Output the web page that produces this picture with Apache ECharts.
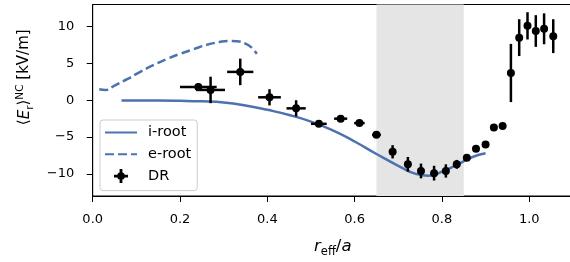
<!DOCTYPE html>
<html>
  <head>
    <meta charset="UTF-8" />
    <title>Er NC</title>
    <script src="https://cdn.jsdelivr.net/npm/echarts@6/dist/echarts.min.js"></script>
    <style>
      body { margin: 0; background: #fff; }
    </style>
  </head>
  <body>
    <div id="chart" style="width: 570px; height: 262px"></div>
    <script>
      var xTicks = [0, 0.2, 0.4, 0.6, 0.8, 1.0];
      var yTicks = [-10, -5, 0, 5, 10];
      var shadeRange = [0.65, 0.85];

      // i-root (solid)
      var iRootX = [0.066, 0.1, 0.15, 0.2, 0.25, 0.3, 0.35, 0.4, 0.45, 0.5, 0.55, 0.6, 0.65, 0.7, 0.74, 0.77, 0.8, 0.84, 0.87, 0.9];
      var iRootY = [-0.05, -0.05, -0.05, -0.08, -0.15, -0.3, -0.7, -1.3, -2.0, -2.9, -4.1, -5.6, -7.3, -8.9, -10.0, -10.25, -9.7, -8.6, -7.7, -7.2];

      // e-root (dashed)
      var eRootX = [0.015, 0.03, 0.05, 0.08, 0.11, 0.14, 0.17, 0.2, 0.23, 0.26, 0.29, 0.31, 0.33, 0.35, 0.365, 0.376];
      var eRootY = [1.5, 1.4, 2.0, 2.9, 3.9, 4.8, 5.6, 6.3, 6.9, 7.5, 7.9, 8.05, 8.0, 7.7, 7.1, 6.3];

      // DR measurements
      var drX = [0.242, 0.270, 0.338, 0.405, 0.466, 0.518, 0.568, 0.611, 0.650, 0.687, 0.722, 0.752, 0.782, 0.809, 0.834, 0.857, 0.878, 0.900, 0.919, 0.939, 0.958, 0.977, 0.996, 1.015, 1.034, 1.055];
      var drY = [1.8, 1.4, 3.85, 0.4, -1.1, -3.2, -2.5, -3.1, -4.7, -7.0, -8.7, -9.6, -9.9, -9.6, -8.7, -7.8, -6.6, -6.0, -3.7, -3.5, 3.7, 8.5, 10.1, 9.4, 9.7, 8.7];
      var drXErr = [0.042, 0.033, 0.03, 0.026, 0.022, 0.018, 0.015, 0.012, 0.01, 0.008, 0.007, 0.007, 0.007, 0.006, 0.006, 0.005, 0.005, 0.005, 0.004, 0.004, 0.004, 0.004, 0.004, 0.004, 0.004, 0.004];
      var drYErr = [0.5, 1.8, 1.8, 1.1, 1.1, 0.3, 0.3, 0.3, 0.4, 0.9, 1.0, 1.0, 1.0, 0.9, 0.6, 0.4, 0.4, 0.4, 0.3, 0.3, 3.95, 2.5, 1.85, 2.15, 2.1, 2.3];

      var blue = "#4c72b0";
      var font = "DejaVu Sans";

      function zip(a, b) {
        var out = [];
        for (var i = 0; i < a.length; i++) out.push([a[i], b[i]]);
        return out;
      }

      var drData = [];
      for (var i = 0; i < drX.length; i++) {
        drData.push([drX[i], drY[i], drXErr[i], drYErr[i]]);
      }

      function renderDR(params, api) {
        var x = api.value(0), y = api.value(1), ex = api.value(2), ey = api.value(3);
        var c = api.coord([x, y]);
        var l = api.coord([x - ex, y]);
        var r = api.coord([x + ex, y]);
        var t = api.coord([x, y + ey]);
        var b = api.coord([x, y - ey]);
        var st = { stroke: "#000", lineWidth: 2.5 };
        return {
          type: "group",
          children: [
            { type: "line", shape: { x1: l[0], y1: l[1], x2: r[0], y2: r[1] }, style: st },
            { type: "line", shape: { x1: t[0], y1: t[1], x2: b[0], y2: b[1] }, style: st },
            { type: "circle", shape: { cx: c[0], cy: c[1], r: 4 }, style: { fill: "#000" } },
          ],
        };
      }

      var myChart = echarts.init(document.getElementById("chart"), null, { renderer: "canvas" });

      var noSymbol = { color: "transparent", borderWidth: 0, opacity: 0 };

      var option = {
        animation: false,
        backgroundColor: "#fff",
        textStyle: { fontFamily: font },
        grid: {
          left: 92.7,
          top: 4.5,
          right: -2.9,
          bottom: 66,
          outerBoundsMode: "none",
          containLabel: false,
          show: true,
          borderColor: "#000",
          borderWidth: 1,
          backgroundColor: "transparent",
        },
        legend: {
          orient: "vertical",
          left: 100,
          top: 120,
          padding: [5, 6, 7, 4],
          itemWidth: 32,
          itemHeight: 14,
          itemGap: 6.8,
          backgroundColor: "rgba(255,255,255,0.8)",
          borderColor: "#cccccc",
          borderWidth: 1,
          borderRadius: 3,
          textStyle: { fontFamily: font, fontSize: 14.5, lineHeight: 14, color: "#000", padding: [0, 0, 0, 6] },
          data: [
            { name: "i-root", itemStyle: noSymbol },
            { name: "e-root", itemStyle: noSymbol },
            {
              name: "DR",
              icon: "path://M-6,-1.2 L-1.2,-1.2 L-1.2,-6 L1.2,-6 L1.2,-1.2 L6,-1.2 L6,1.2 L1.2,1.2 L1.2,6 L-1.2,6 L-1.2,1.2 L-6,1.2 Z M-3.3,0 A3.3,3.3 0 1,1 3.3,0 A3.3,3.3 0 1,1 -3.3,0 Z",
              itemStyle: { color: "#000" },
            },
          ],
        },
        xAxis: {
          type: "value",
          min: 0,
          max: 1.1,
          name: "{it|r}{sub|eff}{n|/}{it|a}",
          nameLocation: "middle",
          nameGap: 40,
          nameTextStyle: {
            rich: {
              it: { fontFamily: font, fontStyle: "italic", fontSize: 16.5, color: "#000", verticalAlign: "bottom", lineHeight: 19 },
              sub: { fontFamily: font, fontSize: 11.5, color: "#000", verticalAlign: "bottom", lineHeight: 13, padding: [0, 0, -3, 0] },
              n: { fontFamily: font, fontSize: 16.5, color: "#000", verticalAlign: "bottom", lineHeight: 19 },
            },
          },
          axisLine: { show: true, onZero: false, lineStyle: { color: "#000", width: 1 } },
          axisTick: { show: true, length: 6, lineStyle: { color: "#000", width: 1 }, customValues: xTicks },
          axisLabel: {
            color: "#000",
            fontFamily: font,
            fontSize: 13,
            margin: 17,
            customValues: xTicks,
            formatter: function (v) { return v.toFixed(1); },
          },
          splitLine: { show: false },
        },
        yAxis: {
          type: "value",
          min: -13,
          max: 13,
          name: "⟨{it|E}{sub|r}⟩{sup|NC} [kV/m]",
          nameLocation: "middle",
          nameRotate: 90,
          nameGap: 56,
          nameTextStyle: {
            rich: {
              it: { fontFamily: font, fontStyle: "italic", fontSize: 15, color: "#000", verticalAlign: "bottom", lineHeight: 18 },
              sub: { fontFamily: font, fontSize: 10.5, color: "#000", verticalAlign: "bottom", lineHeight: 12, padding: [0, 0, -3, 0] },
              sup: { fontFamily: font, fontSize: 10.5, color: "#000", verticalAlign: "top", lineHeight: 12, padding: [0, 0, 7, 0] },
            },
            fontFamily: font,
            fontSize: 15,
            color: "#000",
            padding: [0, 0, 0, 46],
          },
          axisLine: { show: true, onZero: false, lineStyle: { color: "#000", width: 1 } },
          axisTick: { show: true, length: 6, lineStyle: { color: "#000", width: 1 }, customValues: yTicks },
          axisLabel: {
            color: "#000",
            fontFamily: font,
            fontSize: 13,
            margin: 18.5,
            customValues: yTicks,
            formatter: function (v) { return String(v).replace("-", "\u2212"); },
          },
          splitLine: { show: false },
        },
        series: [
          {
            name: "shade",
            type: "line",
            data: [],
            silent: true,
            z: 0,
            markArea: {
              silent: true,
              itemStyle: { color: "#e5e5e5" },
              data: [[{ xAxis: shadeRange[0] }, { xAxis: shadeRange[1] }]],
            },
          },
          {
            name: "i-root",
            type: "line",
            data: zip(iRootX, iRootY),
            smooth: true,
            showSymbol: false,
            symbol: "none",
            color: blue,
            lineStyle: { color: blue, width: 2.5 },
            z: 3,
          },
          {
            name: "e-root",
            type: "line",
            data: zip(eRootX, eRootY),
            smooth: true,
            showSymbol: false,
            symbol: "none",
            color: blue,
            lineStyle: { color: blue, width: 2.5, type: [9, 4] },
            z: 3,
          },
          {
            name: "DR",
            type: "custom",
            data: drData,
            renderItem: renderDR,
            color: "#000",
            encode: { x: 0, y: 1 },
            z: 4,
          },
        ],
      };

      myChart.setOption(option);
    </script>
  </body>
</html>
